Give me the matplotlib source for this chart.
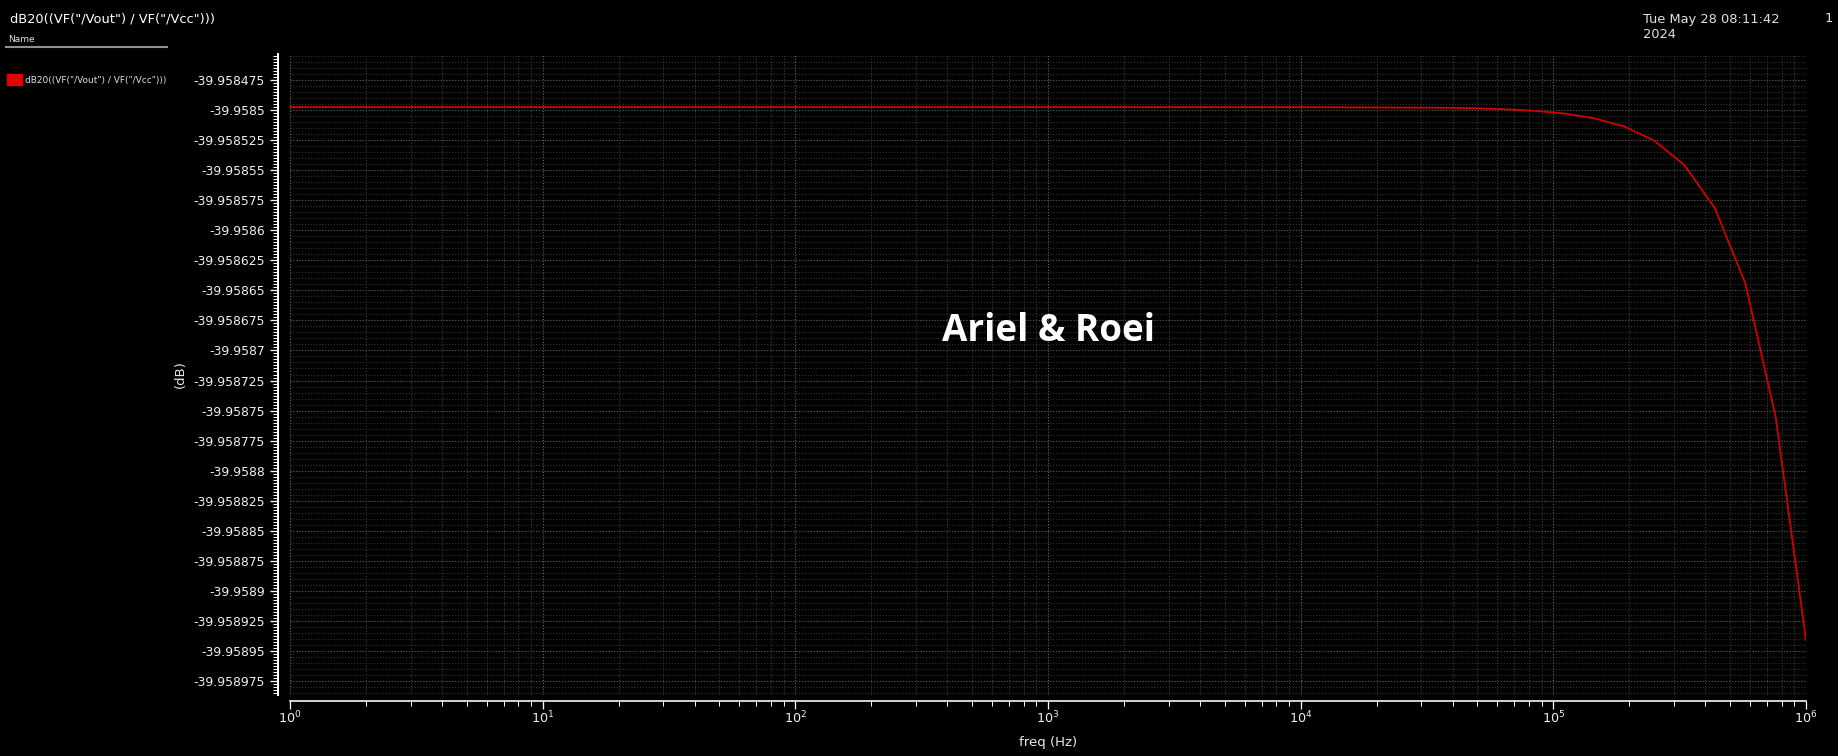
import matplotlib
matplotlib.use("Agg")
import matplotlib.pyplot as plt
import matplotlib.ticker as ticker
import numpy as np

# data (freq in Hz, gain in dB)
freq = [1, 10, 100, 1000, 10000, 36308, 47863, 63096, 83176, 109648,
        144544, 190546, 251189, 331131, 436516, 575440, 758578, 1000000]
gain_db = [-39.9584975, -39.9584975, -39.9584975, -39.9584975, -39.9584976,
           -39.9584981, -39.9584985, -39.9584993, -39.9585006, -39.9585028,
           -39.9585068, -39.9585136, -39.9585255, -39.9585461, -39.9585819,
           -39.9586442, -39.9587554, -39.9589409]

ytick_labels = ["-39.958475", "-39.9585", "-39.958525", "-39.95855", "-39.958575",
                "-39.9586", "-39.958625", "-39.95865", "-39.958675", "-39.9587",
                "-39.958725", "-39.95875", "-39.958775", "-39.9588", "-39.958825",
                "-39.95885", "-39.958875", "-39.9589", "-39.958925", "-39.95895",
                "-39.958975"]

trace_name = 'dB20((VF("/Vout") / VF("/Vcc")))'

W, H = 1838, 756
PT = 0.72  # points per pixel at dpi 100
fig = plt.figure(figsize=(W / 100, H / 100), dpi=100)
fig.patch.set_facecolor("black")

ax = fig.add_axes([290 / W, 1 - 695 / H, (1806 - 290) / W, (695 - 54) / H])
ax.set_facecolor("black")

ax.plot(freq, gain_db, color="#d00000", lw=1.3, zorder=5)

ax.set_xscale("log")
ax.set_xlim(1, 1e6)
ax.set_ylim(-39.9589866, -39.9584534)

# y ticks
yticks = [float(s) for s in ytick_labels]
ax.set_yticks(yticks)
ax.set_yticklabels(ytick_labels)
ax.yaxis.set_minor_locator(ticker.MultipleLocator(2.5e-6))

# x ticks
ax.xaxis.set_major_locator(ticker.LogLocator(base=10, numticks=10))
ax.xaxis.set_minor_locator(ticker.LogLocator(base=10, subs=np.arange(2, 10), numticks=100))
ax.xaxis.set_minor_formatter(ticker.NullFormatter())

# spines, detached like the viewer
for s in ["top", "right"]:
    ax.spines[s].set_visible(False)
ax.spines["left"].set_position(("outward", 12 * PT))
ax.spines["bottom"].set_position(("outward", 6 * PT))
ax.spines["left"].set_color("white")
ax.spines["bottom"].set_color("white")
ax.spines["left"].set_linewidth(2 * PT)
ax.spines["bottom"].set_linewidth(1.6 * PT)

ax.tick_params(axis="both", which="major", colors="white", length=8 * PT, width=1.3 * PT,
               labelsize=8.9, labelcolor="#f0f0f0")
ax.tick_params(axis="both", which="minor", colors="white", length=5 * PT, width=1 * PT)
ax.tick_params(axis="x", pad=1 * PT, labelsize=9.2)
ax.tick_params(axis="y", pad=5 * PT)

# grid
dots = (0, (1, 1.6))
ax.xaxis.grid(True, which="major", color="#666666", ls=dots, lw=0.8)
ax.xaxis.grid(True, which="minor", color="#3a3a3a", ls=dots, lw=0.8)
ax.yaxis.grid(True, which="major", color="#555555", ls=dots, lw=0.8)
for yv in np.arange(yticks[0] + 25e-6, yticks[-1] - 10e-6, -5e-6):
    ax.axhline(yv, color="#323232", ls=dots, lw=0.8, zorder=0.5)

ax.set_xlabel("freq (Hz)", color="#e8e8e8", fontsize=9.5)
ax.xaxis.set_label_coords(0.5, (695 - 736) / (695 - 54))
ax.set_ylabel("(dB)", color="#e8e8e8", fontsize=9.5)
ax.yaxis.set_label_coords((187 - 290) / (1806 - 290), 0.5)

# watermark
ax.text(0.5, 0.5 - (331 - 374.5) / (695 - 54), "Ariel & Roei", transform=ax.transAxes,
        ha="center", va="center", fontsize=26.5, fontweight="bold",
        family=["Open Sans", "DejaVu Sans"], color="white", zorder=6)

# header / legend area
fig.text(10 / W, 1 - 19 / H, trace_name, color="white", fontsize=9.4, va="center")
fig.text(8 / W, 1 - 39 / H, "Name", color="#e0e0e0", fontsize=6.5, va="center")
fig.add_artist(plt.Line2D([6 / W, 167 / W], [1 - 47 / H, 1 - 47 / H], color="#909090", lw=1.5))
fig.add_artist(plt.Rectangle((7 / W, 1 - 85 / H), 15 / W, 11 / H, color="#e00000"))
fig.text(25 / W, 1 - 81 / H, trace_name, color="#e0e0e0", fontsize=6.5, va="center")

fig.text(1643 / W, 1 - 19 / H, "Tue May 28 08:11:42", color="#e0e0e0", fontsize=9.4, va="center")
fig.text(1643 / W, 1 - 35 / H, "2024", color="#e0e0e0", fontsize=9.4, va="center")
fig.text(1825 / W, 1 - 19 / H, "1", color="#e0e0e0", fontsize=9.4, va="center")

fig.savefig("out.png", dpi=100, facecolor="black")
